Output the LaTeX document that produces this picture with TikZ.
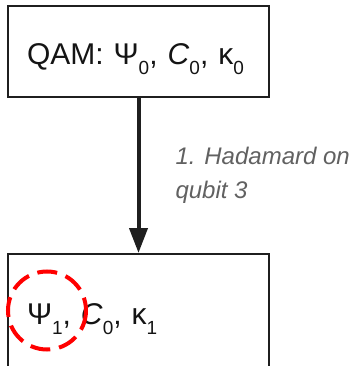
\documentclass[tikz,border=0pt]{standalone}
\usepackage{fontspec}
\setmainfont{Liberation Sans}
\usetikzlibrary{calc,positioning,arrows.meta}
\newcommand{\lowsub}[1]{\raisebox{-10pt}{\fontsize{19}{19}\selectfont #1}}
\newcommand{\statefont}{\fontsize{30}{36}\selectfont\spaceskip=5.5pt plus 1pt\relax}

\tikzset{
  state/.style={draw=black!88, line width=2pt, rectangle, text width=223pt,
    align=left, inner xsep=19pt, inner ysep=0pt, text height=27pt, text depth=0pt,
    font=\statefont, text=black!92},
  gate/.style={draw=black!88, line width=4pt, -{Triangle[length=25pt,width=18pt]}},
  gatelabel/.style={font=\itshape\fontsize{24}{34}\selectfont, text=black!62,
    align=left, inner sep=0pt},
  hilite/.style={draw=red, line width=4pt, dash pattern=on 20pt off 9pt}
}

\begin{document}
\begin{tikzpicture}[x=1pt,y=-1pt]
  \useasboundingbox (0,0) rectangle (363,366);

  \node[state, minimum height=91pt] (qam) at (138.5,51.5)
    {QAM: Ψ\lowsub{0}, \textit{C}\lowsub{0}, κ\lowsub{0}};
  \node[state, minimum height=113pt, anchor=north] (nxt) at (138.5,253)
    {Ψ\lowsub{1}, \textit{C}\lowsub{0}, κ\lowsub{1}};

  \draw[gate] (qam) -- (nxt)
    node[gatelabel, midway, right=35pt] (hlabel) {1. Hadamard on\\qubit 3};

  % changed register
  \draw[hilite] ($(nxt.west)+(40,0)$) circle[radius=39];
\end{tikzpicture}
\end{document}
